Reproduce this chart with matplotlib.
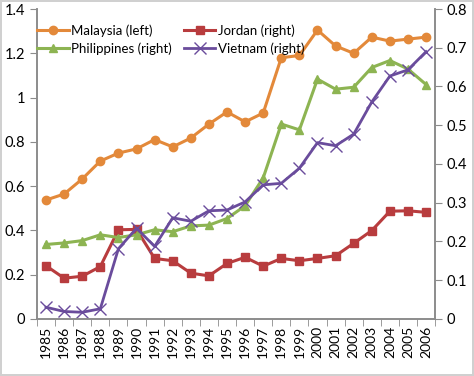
import matplotlib.pyplot as plt
import numpy as np

plt.rcParams['font.family'] = ['Lato', 'DejaVu Sans']

years = [str(y) for y in range(1985, 2007)]

# left axis
malaysia = [0.537, 0.564, 0.632, 0.713, 0.749, 0.768, 0.81, 0.777, 0.817, 0.88, 0.935,
            0.89, 0.93, 1.18, 1.19, 1.305, 1.233, 1.20, 1.273, 1.255, 1.264, 1.273]
# right axis
jordan = [0.137, 0.105, 0.110, 0.135, 0.230, 0.231, 0.156, 0.150, 0.118, 0.111, 0.143,
          0.159, 0.136, 0.156, 0.150, 0.156, 0.163, 0.195, 0.228, 0.278, 0.279, 0.275]
philippines = [0.192, 0.196, 0.202, 0.217, 0.210, 0.217, 0.230, 0.225, 0.240, 0.242, 0.259,
               0.292, 0.364, 0.503, 0.488, 0.619, 0.593, 0.598, 0.649, 0.667, 0.645, 0.605]
vietnam = [0.030, 0.019, 0.017, 0.026, 0.181, 0.234, 0.187, 0.261, 0.252, 0.279, 0.281,
           0.302, 0.346, 0.350, 0.389, 0.455, 0.447, 0.477, 0.560, 0.627, 0.643, 0.690]

c_mal = '#E3893A'
c_jor = '#B83C3E'
c_phi = '#8DB452'
c_vie = '#6A4C9C'
grey = '#8C8C8C'

fig = plt.figure(figsize=(4.74, 3.76), dpi=100)
fig.patch.set_edgecolor('#D0D0D0')
fig.patch.set_linewidth(1.5)
ax = fig.add_axes([0.078, 0.152, 0.84, 0.824])
ax2 = ax.twinx()

x = np.arange(len(years))
l1, = ax.plot(x, malaysia, color=c_mal, lw=2.2, marker='o', ms=6, label='Malaysia (left)')
l2, = ax2.plot(x, jordan, color=c_jor, lw=2.2, marker='s', ms=6, label='Jordan (right)')
l3, = ax2.plot(x, philippines, color=c_phi, lw=2.2, marker='^', ms=6, label='Philippines (right)')
l4, = ax2.plot(x, vietnam, color=c_vie, lw=2.0, marker='x', ms=9, mew=1.0, label='Vietnam (right)')

ax.set_xlim(-0.5, len(years) - 0.5)
ax.set_ylim(0, 1.4)
ax2.set_ylim(0, 0.8)
ax.set_yticks([0, 0.2, 0.4, 0.6, 0.8, 1.0, 1.2, 1.4])
ax.set_yticklabels(['0', '0.2', '0.4', '0.6', '0.8', '1', '1.2', '1.4'])
ax2.set_yticks([0, 0.1, 0.2, 0.3, 0.4, 0.5, 0.6, 0.7, 0.8])
ax2.set_yticklabels(['0', '0.1', '0.2', '0.3', '0.4', '0.5', '0.6', '0.7', '0.8'])

ax.set_xticks(x)
ax.set_xticklabels(years, rotation=90, fontsize=10)
ax.set_xticks(np.arange(-0.5, len(years)), minor=True)
ax.tick_params(axis='x', which='major', length=0, pad=5)
ax.tick_params(axis='x', which='minor', length=5, color=grey)

for a in (ax, ax2):
    a.spines['top'].set_visible(False)
    for s in ('left', 'right', 'bottom'):
        a.spines[s].set_color(grey)
        a.spines[s].set_linewidth(1.2)
    a.tick_params(axis='y', labelsize=10.5, color=grey, length=5)

# row-wise order: Malaysia, Jordan / Philippines, Vietnam
leg = ax2.legend(handles=[l1, l3, l2, l4], ncol=2, loc='upper left',
                 bbox_to_anchor=(-0.03, 0.99), frameon=False, fontsize=9.5,
                 handlelength=2.4, handletextpad=0.2, columnspacing=0.9,
                 labelspacing=0.45)

fig.savefig('out.png', dpi=100)
